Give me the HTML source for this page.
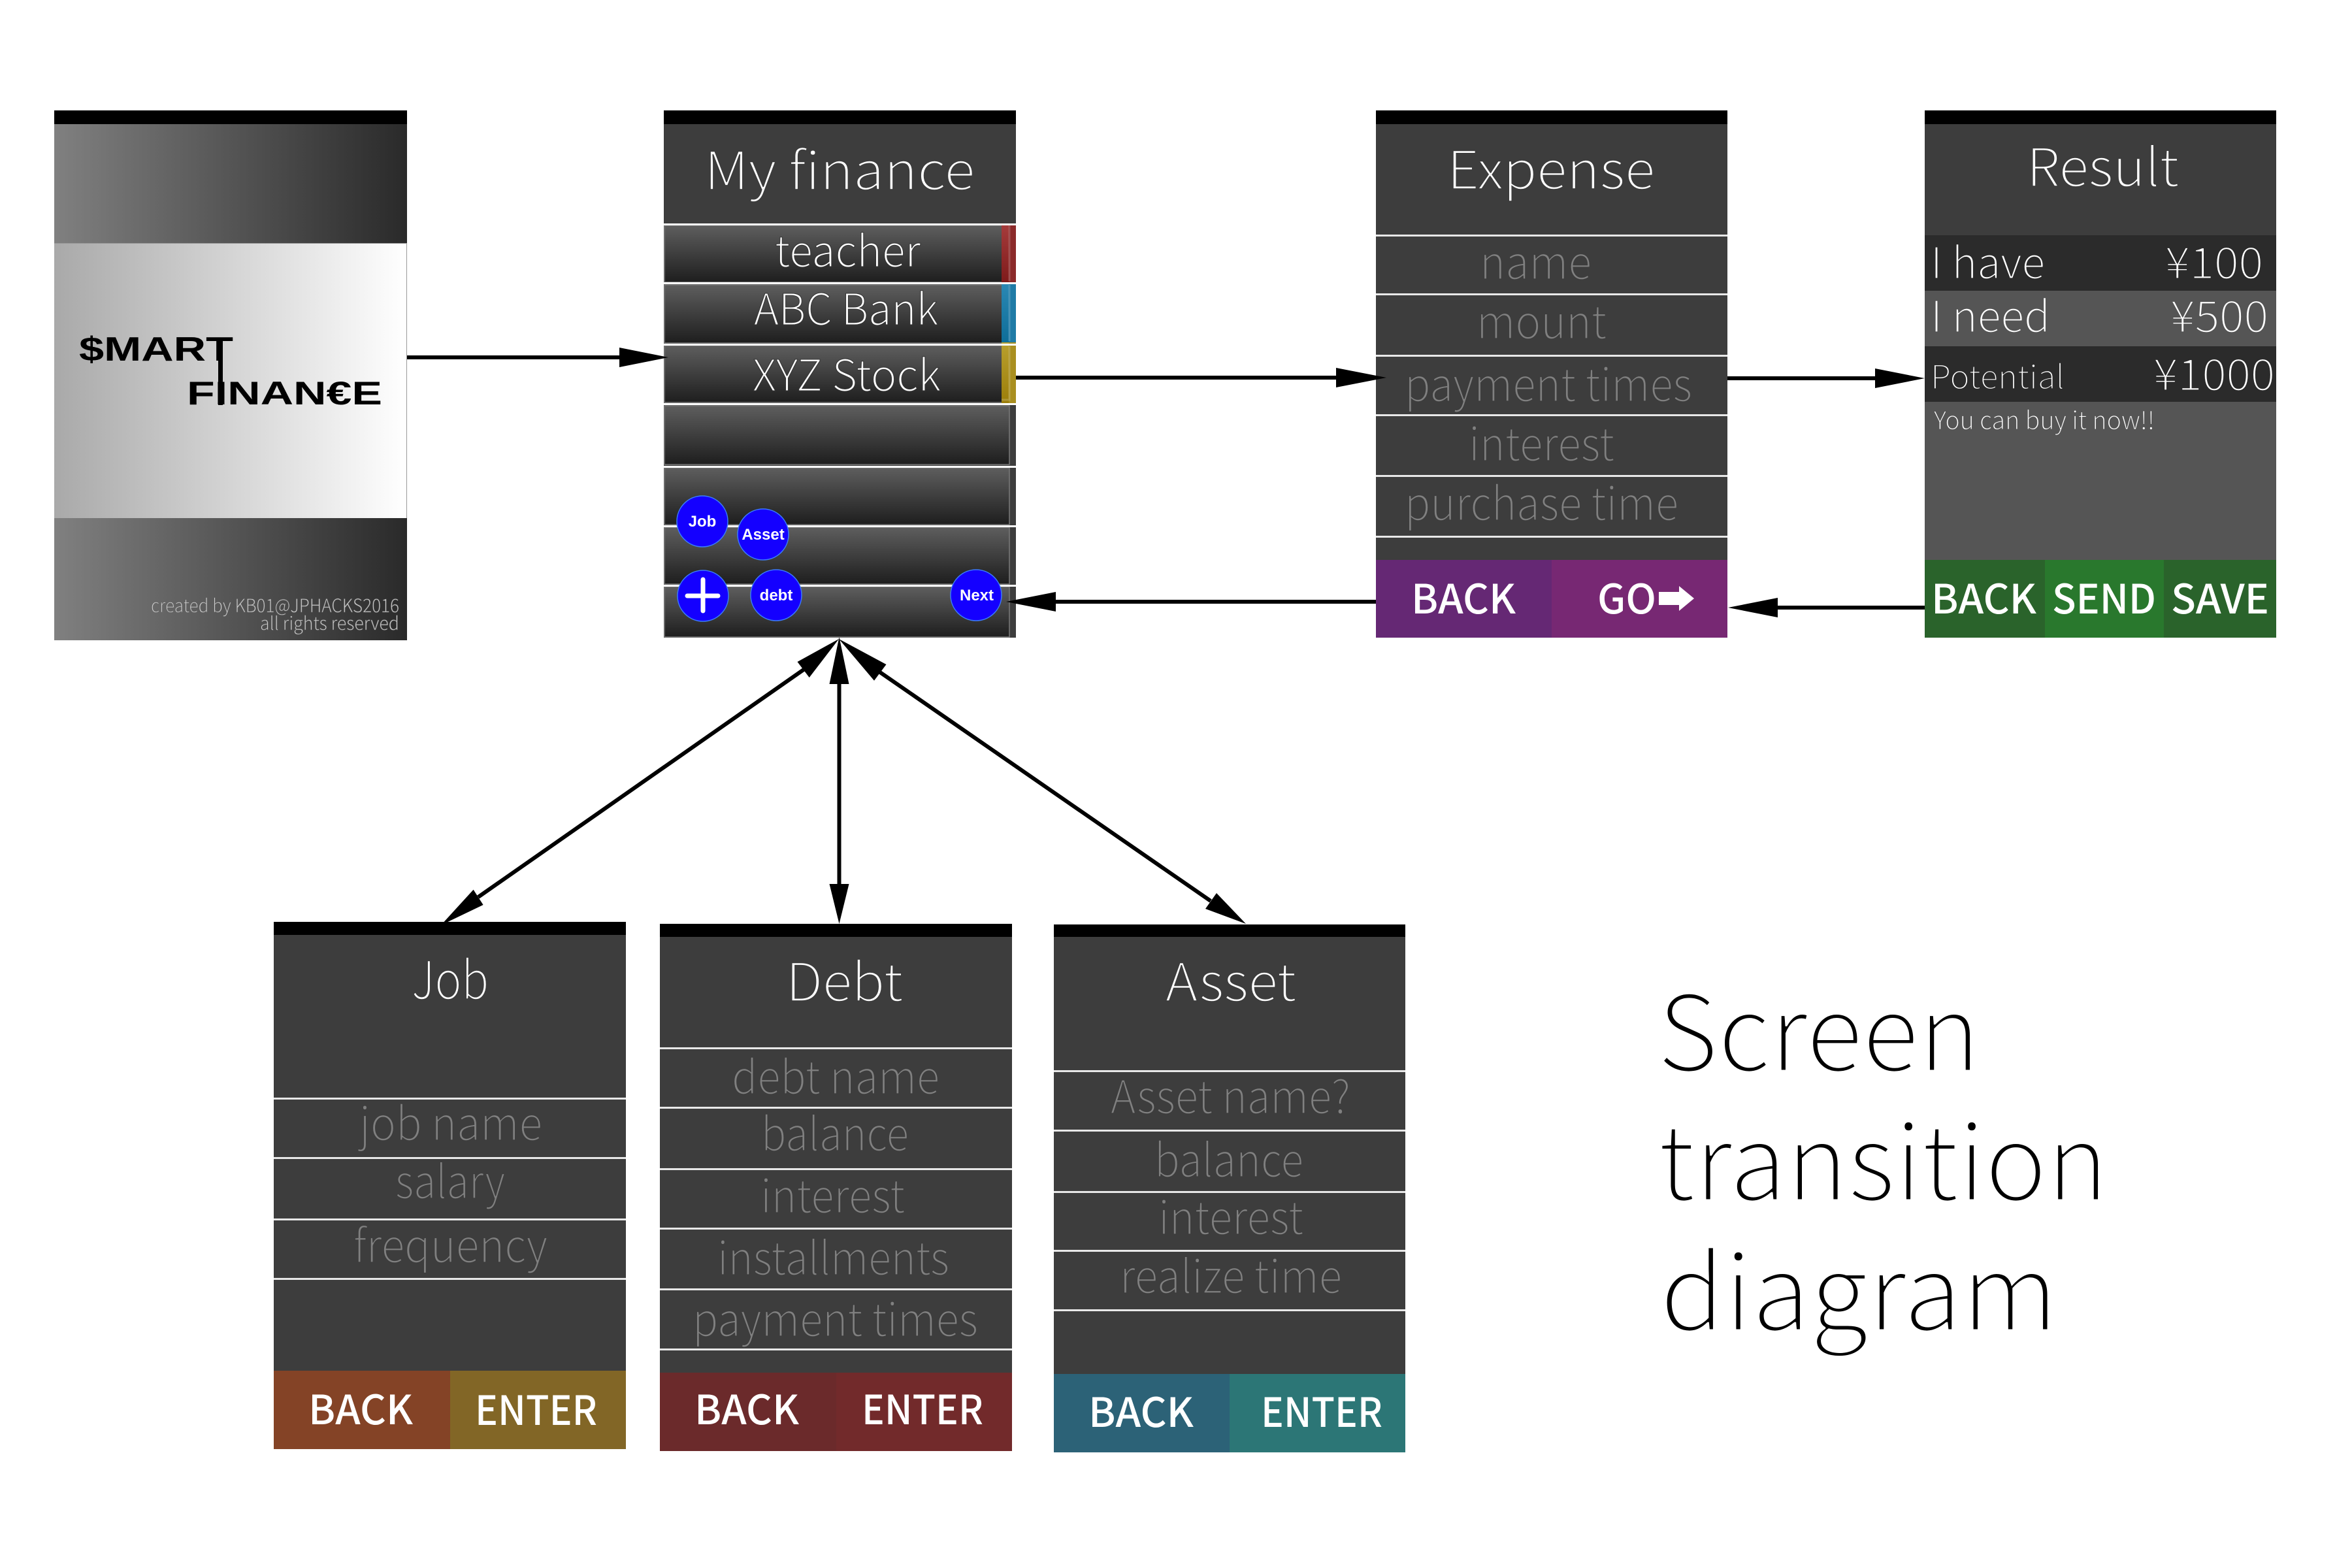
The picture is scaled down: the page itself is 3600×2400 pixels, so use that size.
<!DOCTYPE html>
<html><head><meta charset="utf-8"><style>
html,body{margin:0;padding:0;background:#fff;width:3600px;height:2400px;overflow:hidden}
svg{display:block}
text{font-family:"Noto Sans CJK JP","Liberation Sans",sans-serif}
.l{font-weight:300;fill:#fff;stroke:#3d3d3d;stroke-width:1.4}
.r{font-weight:300;fill:#fff;stroke:#343434;stroke-width:1}
.p{font-weight:300;fill:#808080;stroke:#3d3d3d;stroke-width:1.2}
.s1{font-weight:300;fill:#fff;stroke:#2b2b2b;stroke-width:1.2}
.s2{font-weight:300;fill:#fff;stroke:#555;stroke-width:1.2}
.sp{font-weight:300;fill:#d0d0d0;stroke:#666;stroke-width:.5}
.b{font-weight:500;fill:#fff}
.c{font-family:"Liberation Sans",sans-serif;font-weight:700;fill:#fff;font-size:24px;text-anchor:middle}
.k{font-family:"Liberation Sans",sans-serif;font-weight:700;fill:#000}
.h{font-weight:300;fill:#000;stroke:#fff;stroke-width:3}
</style></head><body>
<svg xmlns="http://www.w3.org/2000/svg" width="3600" height="2400" viewBox="0 0 3600 2400">
<defs>
<linearGradient id="d"><stop offset="0" stop-color="#808080"/><stop offset="1" stop-color="#2a2a2a"/></linearGradient>
<linearGradient id="m"><stop offset="0" stop-color="#a9a9a9"/><stop offset="1" stop-color="#fff"/></linearGradient>
<linearGradient id="r" x2="0" y2="1"><stop offset="0" stop-color="#5e5e5e"/><stop offset="1" stop-color="#1e1e1e"/></linearGradient>
<linearGradient id="gr" x2="0" y2="1"><stop offset="0" stop-color="#a63c3c"/><stop offset="1" stop-color="#7e1a1a"/></linearGradient>
<linearGradient id="gb" x2="0" y2="1"><stop offset="0" stop-color="#2a88b4"/><stop offset="1" stop-color="#0e6d98"/></linearGradient>
<linearGradient id="gy" x2="0" y2="1"><stop offset="0" stop-color="#b9a02e"/><stop offset="1" stop-color="#9c7e0a"/></linearGradient>
</defs>
<rect width="3600" height="2400" fill="#fff"/>

<!-- Splash -->
<rect x="83" y="169" width="540" height="21" fill="#000"/>
<rect x="83" y="190" width="540" height="182" fill="url(#d)"/>
<rect x="83" y="372" width="540" height="421" fill="url(#m)"/>
<rect x="83" y="793" width="540" height="187" fill="url(#d)"/>
<rect x="83" y="372" width="540" height="1" fill="#999"/>
<rect x="622" y="372" width="1" height="421" fill="#999"/>
<text class="k" x="121" y="552" font-size="52" textLength="236" lengthAdjust="spacingAndGlyphs">$MART</text>
<rect x="334" y="518" width="7" height="102" fill="#000"/>
<text class="k" x="286" y="619" font-size="50" textLength="299" lengthAdjust="spacingAndGlyphs">FINAN€E</text>
<text class="sp" x="231" y="937" font-size="28" textLength="380" lengthAdjust="spacingAndGlyphs">created by KB01@JPHACKS2016</text>
<text class="sp" x="398" y="964" font-size="28" textLength="213" lengthAdjust="spacingAndGlyphs">all rights reserved</text>

<!-- My finance -->
<rect x="1016" y="169" width="539" height="21" fill="#000"/>
<rect x="1016" y="190" width="539" height="786" fill="#3d3d3d"/>
<g fill="url(#r)" stroke="#7a7a7a" stroke-width="1.5">
<rect x="1017" y="345" width="517" height="87"/>
<rect x="1017" y="436" width="517" height="89"/>
<rect x="1017" y="529" width="517" height="87"/>
<rect x="1017" y="621" width="528" height="90"/>
<rect x="1017" y="716" width="528" height="87"/>
<rect x="1017" y="807" width="528" height="87"/>
<rect x="1017" y="898" width="528" height="77"/>
</g>
<rect x="1533" y="343" width="22" height="90" fill="#8c2a2a"/>
<rect x="1533" y="343" width="11" height="90" fill="url(#gr)"/>
<rect x="1533" y="434" width="22" height="92" fill="#1f7ba6"/>
<rect x="1533" y="434" width="11" height="92" fill="url(#gb)"/>
<rect x="1533" y="524" width="22" height="93" fill="#a98f20"/>
<rect x="1533" y="524" width="11" height="93" fill="url(#gy)"/>
<path d="M1545 345V430M1545 436V522M1545 530V612H1533" fill="none" stroke="#fff" stroke-opacity=".18" stroke-width="3"/>
<g fill="#fff">
<rect x="1016" y="342" width="539" height="3"/>
<rect x="1016" y="432" width="539" height="3"/>
<rect x="1016" y="526" width="539" height="3"/>
<rect x="1016" y="617" width="539" height="3"/>
<rect x="1016" y="713" width="539" height="3"/>
<rect x="1016" y="804" width="539" height="3"/>
<rect x="1016" y="895" width="539" height="3"/>
</g>
<text class="l" x="1078" y="290" font-size="80" textLength="414" lengthAdjust="spacingAndGlyphs">My finance</text>
<text class="r" x="1186" y="408" font-size="66" textLength="223" lengthAdjust="spacingAndGlyphs">teacher</text>
<text class="r" x="1154" y="497" font-size="66" textLength="282" lengthAdjust="spacingAndGlyphs">ABC Bank</text>
<text class="r" x="1152" y="598" font-size="66" textLength="288" lengthAdjust="spacingAndGlyphs">XYZ Stock</text>
<g fill="#1400ff" stroke="#3a7bff" stroke-width="1.5">
<circle cx="1075" cy="798" r="39"/><circle cx="1168" cy="818" r="39"/>
<circle cx="1076" cy="912" r="39"/><circle cx="1188" cy="911" r="39"/><circle cx="1494" cy="911" r="39"/>
</g>
<text class="c" x="1075" y="806">Job</text>
<text class="c" x="1168" y="826">Asset</text>
<text class="c" x="1188" y="919">debt</text>
<text class="c" x="1495" y="919">Next</text>
<path d="M1052 912H1099M1076 887V935" stroke="#fff" stroke-width="7" stroke-linecap="round"/>

<!-- Expense -->
<rect x="2106" y="169" width="538" height="21" fill="#000"/>
<rect x="2106" y="190" width="538" height="667" fill="#3d3d3d"/>
<g fill="#e8e8e8">
<rect x="2106" y="359" width="538" height="3"/><rect x="2106" y="449" width="538" height="3"/>
<rect x="2106" y="543" width="538" height="3"/><rect x="2106" y="634" width="538" height="3"/>
<rect x="2106" y="727" width="538" height="3"/><rect x="2106" y="820" width="538" height="3"/>
</g>
<rect x="2106" y="857" width="269" height="119" fill="#652874"/>
<rect x="2375" y="857" width="269" height="119" fill="#772873"/>
<text class="l" x="2215" y="289" font-size="80" textLength="318" lengthAdjust="spacingAndGlyphs">Expense</text>
<text class="p" x="2265" y="427" font-size="70" textLength="171" lengthAdjust="spacingAndGlyphs">name</text>
<text class="p" x="2260" y="518" font-size="70" textLength="199" lengthAdjust="spacingAndGlyphs">mount</text>
<text class="p" x="2150" y="614" font-size="70" textLength="440" lengthAdjust="spacingAndGlyphs">payment times</text>
<text class="p" x="2248" y="705" font-size="70" textLength="223" lengthAdjust="spacingAndGlyphs">interest</text>
<text class="p" x="2150" y="796" font-size="70" textLength="419" lengthAdjust="spacingAndGlyphs">purchase time</text>
<text class="b" x="2160" y="939" font-size="62" textLength="160" lengthAdjust="spacingAndGlyphs">BACK</text>
<text class="b" x="2445" y="939" font-size="62" textLength="90" lengthAdjust="spacingAndGlyphs">GO</text>
<polygon points="2539,906 2570,906 2570,897 2593,916 2570,935 2570,926 2539,926" fill="#fff"/>

<!-- Result -->
<rect x="2946" y="169" width="538" height="21" fill="#000"/>
<rect x="2946" y="190" width="538" height="170" fill="#3d3d3d"/>
<rect x="2946" y="360" width="538" height="85" fill="#2b2b2b"/>
<rect x="2946" y="445" width="538" height="85" fill="#555"/>
<rect x="2946" y="530" width="538" height="85" fill="#2b2b2b"/>
<rect x="2946" y="615" width="538" height="242" fill="#555"/>
<rect x="2946" y="857" width="184" height="119" fill="#2a632b"/>
<rect x="3130" y="857" width="182" height="119" fill="#29782d"/>
<rect x="3312" y="857" width="172" height="119" fill="#2a632b"/>
<text class="l" x="3102" y="285" font-size="80" textLength="233" lengthAdjust="spacingAndGlyphs">Result</text>
<text class="s1" x="2955" y="426" font-size="66" textLength="175" lengthAdjust="spacingAndGlyphs">I have</text>
<text class="s1" x="3314" y="426" font-size="66" textLength="150" lengthAdjust="spacingAndGlyphs">¥100</text>
<text class="s2" x="2955" y="508" font-size="66" textLength="183" lengthAdjust="spacingAndGlyphs">I need</text>
<text class="s2" x="3322" y="508" font-size="66" textLength="150" lengthAdjust="spacingAndGlyphs">¥500</text>
<text class="s1" x="2955" y="595" font-size="50" textLength="205" lengthAdjust="spacingAndGlyphs">Potential</text>
<text class="s1" x="3296" y="597" font-size="66" textLength="186" lengthAdjust="spacingAndGlyphs">¥1000</text>
<text class="s2" x="2960" y="657" font-size="38" style="stroke-width:.7" textLength="338" lengthAdjust="spacingAndGlyphs">You can buy it now!!</text>
<text class="b" x="2956" y="939" font-size="62" textLength="161" lengthAdjust="spacingAndGlyphs">BACK</text>
<text class="b" x="3141" y="939" font-size="62" textLength="159" lengthAdjust="spacingAndGlyphs">SEND</text>
<text class="b" x="3323" y="939" font-size="62" textLength="150" lengthAdjust="spacingAndGlyphs">SAVE</text>

<!-- Job -->
<rect x="419" y="1411" width="539" height="20" fill="#000"/>
<rect x="419" y="1431" width="539" height="667" fill="#3d3d3d"/>
<g fill="#e8e8e8">
<rect x="419" y="1680" width="539" height="3"/><rect x="419" y="1771" width="539" height="3"/>
<rect x="419" y="1865" width="539" height="3"/><rect x="419" y="1956" width="539" height="3"/>
</g>
<rect x="419" y="2098" width="270" height="120" fill="#844326"/>
<rect x="689" y="2098" width="269" height="120" fill="#826626"/>
<text class="l" x="630" y="1529" font-size="80" textLength="118" lengthAdjust="spacingAndGlyphs">Job</text>
<text class="p" x="550" y="1745" font-size="70" textLength="280" lengthAdjust="spacingAndGlyphs">job name</text>
<text class="p" x="605" y="1834" font-size="70" textLength="168" lengthAdjust="spacingAndGlyphs">salary</text>
<text class="p" x="541" y="1932" font-size="70" textLength="297" lengthAdjust="spacingAndGlyphs">frequency</text>
<text class="b" x="472" y="2180" font-size="62" textLength="160" lengthAdjust="spacingAndGlyphs">BACK</text>
<text class="b" x="727" y="2181" font-size="62" textLength="187" lengthAdjust="spacingAndGlyphs">ENTER</text>

<!-- Debt -->
<rect x="1010" y="1414" width="539" height="20" fill="#000"/>
<rect x="1010" y="1434" width="539" height="667" fill="#3d3d3d"/>
<g fill="#e8e8e8">
<rect x="1010" y="1603" width="539" height="3"/><rect x="1010" y="1694" width="539" height="3"/>
<rect x="1010" y="1788" width="539" height="3"/><rect x="1010" y="1879" width="539" height="3"/>
<rect x="1010" y="1972" width="539" height="3"/><rect x="1010" y="2064" width="539" height="3"/>
</g>
<rect x="1010" y="2101" width="270" height="120" fill="#6b2a2b"/>
<rect x="1280" y="2101" width="269" height="120" fill="#722a2b"/>
<text class="l" x="1203" y="1532" font-size="80" textLength="179" lengthAdjust="spacingAndGlyphs">Debt</text>
<text class="p" x="1120" y="1674" font-size="70" textLength="318" lengthAdjust="spacingAndGlyphs">debt name</text>
<text class="p" x="1165" y="1761" font-size="70" textLength="226" lengthAdjust="spacingAndGlyphs">balance</text>
<text class="p" x="1164" y="1856" font-size="70" textLength="221" lengthAdjust="spacingAndGlyphs">interest</text>
<text class="p" x="1098" y="1951" font-size="70" textLength="355" lengthAdjust="spacingAndGlyphs">installments</text>
<text class="p" x="1060" y="2045" font-size="70" textLength="437" lengthAdjust="spacingAndGlyphs">payment times</text>
<text class="b" x="1063" y="2180" font-size="62" textLength="160" lengthAdjust="spacingAndGlyphs">BACK</text>
<text class="b" x="1319" y="2180" font-size="62" textLength="186" lengthAdjust="spacingAndGlyphs">ENTER</text>

<!-- Asset -->
<rect x="1613" y="1415" width="538" height="19" fill="#000"/>
<rect x="1613" y="1434" width="538" height="669" fill="#3d3d3d"/>
<g fill="#e8e8e8">
<rect x="1613" y="1638" width="538" height="3"/><rect x="1613" y="1729" width="538" height="3"/>
<rect x="1613" y="1823" width="538" height="3"/><rect x="1613" y="1913" width="538" height="3"/>
<rect x="1613" y="2004" width="538" height="3"/>
</g>
<rect x="1613" y="2103" width="269" height="120" fill="#2c6277"/>
<rect x="1882" y="2103" width="269" height="120" fill="#2c7676"/>
<text class="l" x="1784" y="1532" font-size="80" textLength="200" lengthAdjust="spacingAndGlyphs">Asset</text>
<text class="p" x="1700" y="1704" font-size="70" textLength="367" lengthAdjust="spacingAndGlyphs">Asset name?</text>
<text class="p" x="1767" y="1801" font-size="70" textLength="228" lengthAdjust="spacingAndGlyphs">balance</text>
<text class="p" x="1773" y="1889" font-size="70" textLength="222" lengthAdjust="spacingAndGlyphs">interest</text>
<text class="p" x="1714" y="1979" font-size="70" textLength="340" lengthAdjust="spacingAndGlyphs">realize time</text>
<text class="b" x="1666" y="2184" font-size="62" textLength="161" lengthAdjust="spacingAndGlyphs">BACK</text>
<text class="b" x="1930" y="2184" font-size="62" textLength="186" lengthAdjust="spacingAndGlyphs">ENTER</text>

<!-- Heading -->
<text class="h" x="2537" y="1639" font-size="160" textLength="494" lengthAdjust="spacingAndGlyphs">Screen</text>
<text class="h" x="2538" y="1837" font-size="160" textLength="689" lengthAdjust="spacingAndGlyphs">transition</text>
<text class="h" x="2541" y="2036" font-size="160" textLength="609" lengthAdjust="spacingAndGlyphs">diagram</text>

<!-- Connectors -->
<g stroke="#000" stroke-width="6" fill="none">
<path d="M623 547H950"/>
<path d="M1555 578H2048"/>
<path d="M2644 579H2873"/>
<path d="M2946 930H2718"/>
<path d="M2106 921H1613"/>
<path d="M1284.5 1044V1356"/>
<path d="M1230 1025L732 1373"/>
<path d="M1347 1029L1853 1379"/>
</g>
<g fill="#000">
<polygon points="1023,547 948,532 948,562"/>
<polygon points="2122,578 2045,563 2045,593"/>
<polygon points="2946,579 2870,564 2870,594"/>
<polygon points="2645,930 2721,915 2721,945"/>
<polygon points="1540,921 1616,906 1616,936"/>
<polygon points="1284.5,975 1269.5,1047 1299.5,1047"/>
<polygon points="1284.5,1414 1269.5,1353 1299.5,1353"/>
<polygon points="1284,978 1220.5,1013 1238.7,1037"/>
<polygon points="675,1416 724.6,1361.7 739.6,1385"/>
<polygon points="1284,978 1356.5,1017 1338,1041.7"/>
<polygon points="1907,1414 1862,1367 1845,1391"/>
</g>
</svg>
</body></html>
